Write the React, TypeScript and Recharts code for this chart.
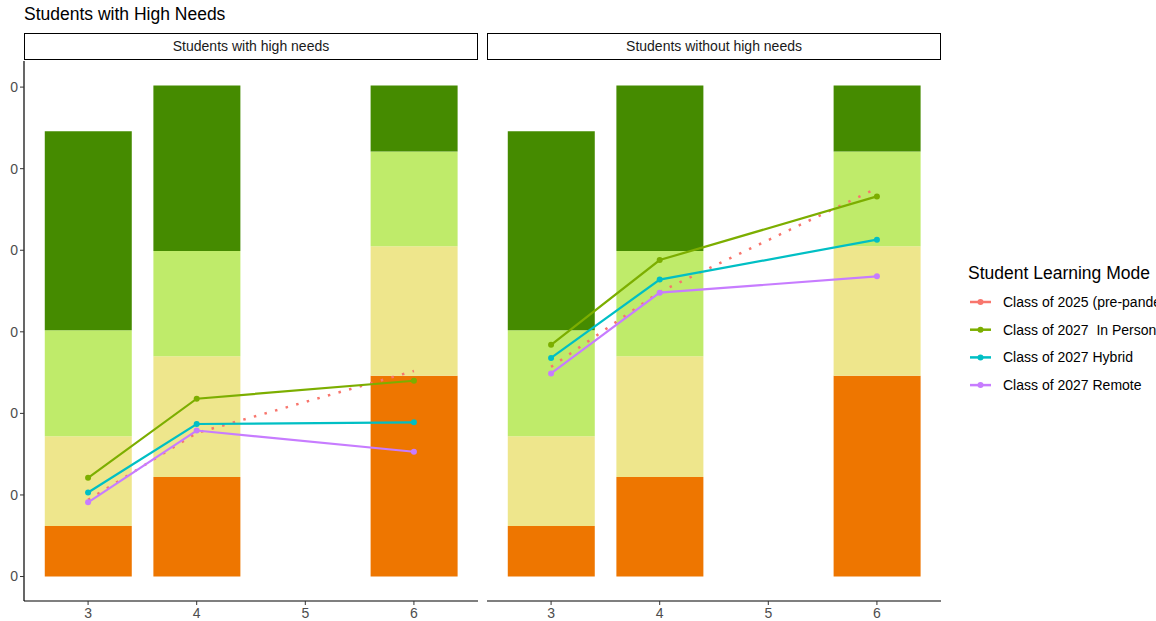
import React from 'react';
import { ComposedChart, Bar, Line, XAxis, YAxis } from 'recharts';

// grade levels (x) and the stacked band sizes behind the lines
const grades = [3, 4, 6];
const bandOrange = [0.62, 1.22, 2.46];
const bandYellow = [1.1, 1.48, 1.59];
const bandLight = [1.3, 1.29, 1.16];
const bandDark = [2.44, 2.03, 0.81];

const yTicks = [0, 1, 2, 3, 4, 5, 6];
const yTickLabels = ['0', '0', '0', '0', '0', '0', '0'];
const xTicks = [3, 4, 5, 6];

// lines, panel 1: students with high needs
const highPre = [0.94, 1.76, 2.52];
const highInPerson = [1.21, 2.18, 2.4];
const highHybrid = [1.03, 1.87, 1.89];
const highRemote = [0.91, 1.79, 1.53];

// lines, panel 2: students without high needs
const lowPre = [2.57, 3.49, 4.76];
const lowInPerson = [2.84, 3.88, 4.66];
const lowHybrid = [2.68, 3.64, 4.13];
const lowRemote = [2.49, 3.48, 3.68];

const seriesNames = [
  'Class of 2025 (pre-pandemic)',
  'Class of 2027  In Person',
  'Class of 2027 Hybrid',
  'Class of 2027 Remote',
];
const seriesColors = ['#F8766D', '#7CAE00', '#00BFC4', '#C77CFF'];
const bandColors = ['#EE7600', '#EEE68C', '#BFEB6A', '#458B00'];

const FONT = '"Liberation Sans", Arial, sans-serif';

const buildRows = (pre: number[], inPerson: number[], hybrid: number[], remote: number[]) =>
  grades.map((g, i) => ({
    x: g,
    orange: bandOrange[i],
    yellow: bandYellow[i],
    light: bandLight[i],
    dark: bandDark[i],
    pre: pre[i],
    inPerson: inPerson[i],
    hybrid: hybrid[i],
    remote: remote[i],
  }));

const highRows = buildRows(highPre, highInPerson, highHybrid, highRemote);
const lowRows = buildRows(lowPre, lowInPerson, lowHybrid, lowRemote);

const Panel: React.FC<{ rows: any[]; showY: boolean; left: number; title: string }> = ({ rows, showY, left, title }) => {
  const width = showY ? 480 : 456;
  return (
    <div style={{ position: 'absolute', left, top: 0 }}>
      <div
        style={{
          position: 'absolute',
          left: showY ? 24 : 0,
          top: 33,
          width: 454,
          height: 27,
          boxSizing: 'border-box',
          border: '1.5px solid #000',
          fontFamily: FONT,
          fontSize: 14,
          color: '#1a1a1a',
          textAlign: 'center',
          lineHeight: '25px',
        }}
      >
        {title}
      </div>
      <ComposedChart width={width} height={621} data={rows} margin={{ top: 61, right: 2, bottom: 0, left: 0 }}>
        <XAxis
          dataKey="x"
          type="number"
          domain={[2.41, 6.59]}
          ticks={xTicks}
          allowDataOverflow
          height={20}
          tickSize={4}
          tickMargin={3}
          axisLine={{ stroke: '#000', strokeWidth: 1.2 }}
          tickLine={{ stroke: '#333' }}
          tick={{ fill: '#4D4D4D', fontSize: 14, fontFamily: FONT }}
        />
        <YAxis
          hide={!showY}
          width={showY ? 24 : 0}
          type="number"
          domain={[-0.3, 6.32]}
          ticks={yTicks}
          allowDataOverflow
          tickSize={4}
          tickMargin={2}
          tickFormatter={(v: number) => yTickLabels[yTicks.indexOf(v)]}
          axisLine={{ stroke: '#000', strokeWidth: 1.2 }}
          tickLine={{ stroke: '#333' }}
          tick={{ fill: '#4D4D4D', fontSize: 14, fontFamily: FONT }}
        />
        <Bar dataKey="orange" stackId="b" fill={bandColors[0]} barSize={87} isAnimationActive={false} />
        <Bar dataKey="yellow" stackId="b" fill={bandColors[1]} barSize={87} isAnimationActive={false} />
        <Bar dataKey="light" stackId="b" fill={bandColors[2]} barSize={87} isAnimationActive={false} />
        <Bar dataKey="dark" stackId="b" fill={bandColors[3]} barSize={87} isAnimationActive={false} />
        <Line
          dataKey="pre"
          stroke={seriesColors[0]}
          strokeWidth={2.5}
          strokeDasharray="2.5 8.5"
          dot={false}
          isAnimationActive={false}
        />
        <Line
          dataKey="inPerson"
          stroke={seriesColors[1]}
          strokeWidth={2.2}
          dot={{ r: 3, fill: seriesColors[1], stroke: 'none' }}
          isAnimationActive={false}
        />
        <Line
          dataKey="hybrid"
          stroke={seriesColors[2]}
          strokeWidth={2.2}
          dot={{ r: 3, fill: seriesColors[2], stroke: 'none' }}
          isAnimationActive={false}
        />
        <Line
          dataKey="remote"
          stroke={seriesColors[3]}
          strokeWidth={2.2}
          dot={{ r: 3, fill: seriesColors[3], stroke: 'none' }}
          isAnimationActive={false}
        />
      </ComposedChart>
    </div>
  );
};

const LegendBox: React.FC = () => (
  <svg style={{ position: 'absolute', left: 940, top: 250 }} width={216} height={160}>
    <text x={28} y={29} fontFamily={FONT} fontSize={17.5} fill="#000">
      Student Learning Mode
    </text>
    {seriesNames.map((name, i) => {
      const cy = 52 + i * 27.7;
      return (
        <g key={name}>
          <line x1={30} x2={51} y1={cy} y2={cy} stroke={seriesColors[i]} strokeWidth={2.5} />
          <circle cx={40.5} cy={cy} r={3} fill={seriesColors[i]} />
          <text x={63} y={cy + 5} fontFamily={FONT} fontSize={14} fill="#000" style={{ whiteSpace: 'pre' }}>
            {name}
          </text>
        </g>
      );
    })}
  </svg>
);

export default function App() {
  return (
    <div
      style={{
        position: 'fixed',
        left: 0,
        top: 0,
        width: 1156,
        height: 621,
        overflow: 'hidden',
        background: '#fff',
      }}
    >
      <div style={{ position: 'absolute', left: 24, top: 4, fontFamily: FONT, fontSize: 17.5, color: '#000' }}>
        Students with High Needs
      </div>
      <Panel rows={highRows} showY left={0} title="Students with high needs" />
      <Panel rows={lowRows} showY={false} left={487} title="Students without high needs" />
      <LegendBox />
    </div>
  );
}
